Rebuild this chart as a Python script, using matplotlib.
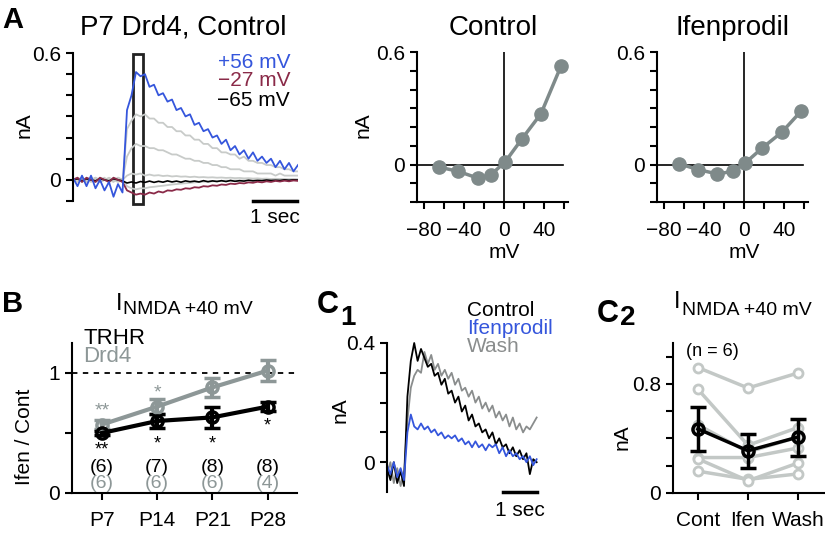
import matplotlib
matplotlib.use("Agg")
import matplotlib.pyplot as plt
import numpy as np

plt.rcParams['font.family'] = ['Liberation Sans', 'DejaVu Sans']
plt.rcParams['axes.linewidth'] = 1.5
plt.rcParams['xtick.major.width'] = 1.5
plt.rcParams['ytick.major.width'] = 1.5
plt.rcParams['xtick.major.size'] = 5
plt.rcParams['ytick.major.size'] = 5
plt.rcParams['xtick.labelsize'] = 15
plt.rcParams['ytick.labelsize'] = 15

W, H = 825, 536
BLUE = '#3556dc'
MAROON = '#8a2a48'
LGRAY = '#c8cbc9'
DGRAY = '#7f8a8a'
MGRAY = '#8d9797'

# ---- panel A: example traces (nA), sampled every 0.1 s from 0 to 5 s
t_a = np.round(np.arange(0, 5.01, 0.1), 2)
trace_p56 = [0.01, -0.03, 0.02, -0.03, 0.02, -0.04, 0.00, -0.05, -0.01, -0.08, -0.02, -0.06,
             0.33, 0.40, 0.51, 0.49, 0.50, 0.44, 0.45, 0.40, 0.41, 0.37, 0.38, 0.33, 0.34, 0.30,
             0.31, 0.26, 0.27, 0.23, 0.24, 0.20, 0.21, 0.17, 0.19, 0.14, 0.16, 0.12, 0.14, 0.10,
             0.13, 0.09, 0.11, 0.08, 0.10, 0.06, 0.09, 0.05, 0.08, 0.04, 0.07]
trace_m27 = [0.00, 0.01, -0.01, 0.01, 0.00, -0.01, 0.01, 0.00, -0.01, 0.01, 0.00, -0.01,
             -0.05, -0.06, -0.07, -0.065, -0.07, -0.06, -0.065, -0.055, -0.06, -0.05, -0.052,
             -0.045, -0.047, -0.04, -0.042, -0.035, -0.037, -0.03, -0.032, -0.026, -0.028,
             -0.022, -0.024, -0.018, -0.02, -0.015, -0.017, -0.012, -0.014, -0.009, -0.012,
             -0.007, -0.01, -0.005, -0.008, -0.004, -0.007, -0.003, -0.005]
trace_m65 = [0.00, 0.005, -0.005, 0.005, 0.00, -0.005, 0.005, 0.00, -0.005, 0.005, 0.00, -0.005,
             -0.015, -0.01, -0.015, -0.008, -0.012, -0.006, -0.012, -0.007, -0.011, -0.005,
             -0.01, -0.006, -0.011, -0.005, -0.009, -0.006, -0.01, -0.004, -0.009, -0.005,
             -0.008, -0.004, -0.008, -0.003, -0.007, -0.004, -0.006, -0.002, -0.005, -0.003,
             -0.004, -0.001, -0.003, -0.002, -0.003, 0.00, -0.002, 0.00, -0.001]
trace_g1 = [0.00, 0.01, -0.01, 0.01, 0.00, -0.01, 0.01, 0.00, -0.01, 0.01, 0.00, -0.01,
            0.24, 0.28, 0.31, 0.30, 0.31, 0.29, 0.29, 0.27, 0.27, 0.25, 0.25, 0.23, 0.23, 0.21,
            0.21, 0.19, 0.19, 0.17, 0.17, 0.15, 0.15, 0.13, 0.13, 0.12, 0.12, 0.10, 0.11, 0.09,
            0.09, 0.08, 0.08, 0.07, 0.07, 0.06, 0.06, 0.05, 0.05, 0.04, 0.04]
trace_g2 = [0.00, -0.01, 0.01, 0.00, -0.01, 0.01, 0.00, 0.01, -0.01, 0.00, 0.01, 0.00,
            0.11, 0.15, 0.17, 0.16, 0.16, 0.15, 0.15, 0.14, 0.14, 0.13, 0.12, 0.12, 0.11, 0.10,
            0.10, 0.09, 0.09, 0.08, 0.08, 0.07, 0.07, 0.06, 0.06, 0.05, 0.05, 0.05, 0.04, 0.04,
            0.04, 0.03, 0.03, 0.03, 0.03, 0.02, 0.03, 0.02, 0.02, 0.02, 0.02]
trace_g3 = [0.00, 0.01, 0.00, -0.01, 0.01, 0.00, -0.01, 0.00, 0.01, 0.00, -0.01, 0.00,
            0.02, 0.03, 0.025, 0.03, 0.02, 0.025, 0.02, 0.022, 0.018, 0.02, 0.016, 0.018, 0.015,
            0.016, 0.013, 0.015, 0.012, 0.013, 0.011, 0.012, 0.01, 0.011, 0.009, 0.01, 0.008,
            0.009, 0.007, 0.008, 0.006, 0.007, 0.005, 0.006, 0.004, 0.005, 0.004, 0.004, 0.003,
            0.004, 0.003]
trace_g4 = [0.00, 0.00, 0.01, -0.01, 0.00, 0.01, -0.01, 0.00, 0.00, -0.01, 0.01, 0.00,
            -0.03, -0.04, -0.045, -0.04, -0.04, -0.035, -0.033, -0.03, -0.028, -0.025, -0.022,
            -0.02, -0.018, -0.016, -0.014, -0.012, -0.01, -0.009, -0.008, -0.007, -0.006,
            -0.005, -0.004, -0.004, -0.003, -0.003, -0.002, -0.002, -0.001, -0.001, 0.00,
            0.00, 0.00, 0.00, 0.00, 0.00, 0.00, 0.00, 0.00]

# ---- panel A: I-V relations
iv_mv_ctrl = [-65, -46, -26, -13, 1, 18, 37, 57]
iv_na_ctrl = [-0.014, -0.036, -0.073, -0.054, 0.013, 0.137, 0.271, 0.525]
iv_mv_ifen = [-65, -46, -27, -11, 1, 18, 38, 57]
iv_na_ifen = [0.004, -0.027, -0.05, -0.037, 0.007, 0.087, 0.173, 0.284]

# ---- panel B: Ifen / Cont ratio
ages = ['P7', 'P14', 'P21', 'P28']
trhr_mean = [0.50, 0.60, 0.63, 0.72]
trhr_sem = [0.02, 0.06, 0.09, 0.04]
drd4_mean = [0.57, 0.72, 0.88, 1.02]
drd4_sem = [0.04, 0.06, 0.08, 0.09]
trhr_n = [6, 7, 8, 8]
drd4_n = [6, 6, 6, 4]
drd4_stars = ['**', '*', '', '']
trhr_stars = ['**', '*', '*', '*']

# ---- panel C1: traces, sampled every 0.1 s from 0 to 4.4 s
t_c = np.round(np.arange(0, 4.41, 0.1), 2)
c1_control = [-0.02, -0.06, 0.00, -0.07, -0.03, -0.08, 0.22, 0.34, 0.40, 0.34, 0.38, 0.35,
              0.32, 0.33, 0.29, 0.30, 0.26, 0.28, 0.23, 0.24, 0.20, 0.22, 0.17, 0.19, 0.14,
              0.16, 0.12, 0.13, 0.10, 0.11, 0.08, 0.10, 0.06, 0.08, 0.05, 0.06, 0.03, 0.05,
              0.02, 0.04, 0.01, 0.03, -0.04, 0.01, 0.00]
c1_ifen = [-0.01, -0.04, 0.00, -0.05, -0.02, -0.06, 0.10, 0.16, 0.12, 0.11, 0.13, 0.11,
           0.12, 0.10, 0.11, 0.09, 0.10, 0.08, 0.09, 0.08, 0.09, 0.07, 0.08, 0.06, 0.07,
           0.05, 0.07, 0.05, 0.06, 0.04, 0.06, 0.05, 0.06, 0.03, 0.05, 0.02, 0.04, 0.02,
           0.03, 0.01, 0.02, 0.00, 0.02, -0.01, 0.01]
c1_wash = [-0.04, 0.00, -0.07, -0.02, -0.08, -0.03, 0.14, 0.25, 0.29, 0.31, 0.30, 0.37,
           0.33, 0.36, 0.31, 0.33, 0.29, 0.31, 0.28, 0.30, 0.26, 0.28, 0.24, 0.25, 0.22,
           0.24, 0.20, 0.22, 0.18, 0.20, 0.17, 0.19, 0.15, 0.17, 0.14, 0.16, 0.12, 0.15,
           0.11, 0.13, 0.10, 0.12, 0.11, 0.13, 0.15]

# ---- panel C2: I_NMDA per cell and mean
conds = ['Cont', 'Ifen', 'Wash']
c2_cells = [[0.92, 0.77, 0.88],
            [0.76, 0.35, 0.48],
            [0.26, 0.26, 0.33],
            [0.16, 0.10, 0.14],
            [0.25, 0.09, 0.22],
            [0.50, 0.30, 0.41]]
c2_mean = [0.47, 0.31, 0.41]
c2_sem = [0.16, 0.125, 0.135]

fig = plt.figure(figsize=(W / 100, H / 100), dpi=100)


def px_axes(l, t, r, b):
    return fig.add_axes([l / W, 1 - b / H, (r - l) / W, (b - t) / H])


def ftext(x, y, s, **kw):
    return fig.text(x / W, 1 - y / H, s, **kw)


# ---------- A: traces
axA = px_axes(73, 48.8, 298, 205.2)
axA.set_xlim(0, 5)
axA.set_ylim(-0.12, 0.62)
for tr in [trace_g4, trace_g3, trace_g2, trace_g1]:
    axA.plot(t_a, tr, color=LGRAY, lw=1.3)
axA.plot(t_a, trace_m65, color='black', lw=1.2)
axA.plot(t_a, trace_m27, color=MAROON, lw=1.3)
axA.plot(t_a, trace_p56, color=BLUE, lw=1.3)
axA.add_patch(plt.Rectangle((1.33, -0.113), 0.23, 0.708, fill=False, lw=2, ec='#222222', clip_on=False))
axA.plot([4.0, 4.98], [-0.1, -0.1], color='black', lw=2.5, clip_on=False)
axA.text(4.49, -0.135, '1 sec', ha='center', va='top', fontsize=15)
for s in ['top', 'right', 'bottom']:
    axA.spines[s].set_visible(False)
axA.spines['left'].set_bounds(-0.1, 0.6)
axA.set_xticks([])
axA.set_yticks(np.round(np.arange(-0.1, 0.61, 0.1), 1))
axA.set_yticklabels(['', '0', '', '', '', '', '', '0.6'])
ftext(24, 125, 'nA', rotation=90, ha='center', va='center', fontsize=15)
ftext(290, 62, '+56 mV', color=BLUE, ha='right', va='center', fontsize=15)
ftext(290, 81, '\u221227 mV', color=MAROON, ha='right', va='center', fontsize=15)
ftext(290, 100, '\u221265 mV', color='black', ha='right', va='center', fontsize=15)
ftext(183, 35, 'P7 Drd4, Control', ha='center', va='baseline', fontsize=20)
ftext(2, 28, 'A', fontweight='bold', fontsize=21, va='baseline')

# ---------- A: I-V plots
for left, mv, na, title in [(417, iv_mv_ctrl, iv_na_ctrl, 'Control'),
                            (657, iv_mv_ifen, iv_na_ifen, 'Ifenprodil')]:
    ax = px_axes(left, 52, left + 151, 202)
    ax.set_xlim(-87, 64)
    ax.set_ylim(-0.2, 0.6)
    ax.axvline(0, color='black', lw=1.2)
    ax.axhline(0, xmax=(59 + 87) / 151, color='black', lw=1.2)
    ax.plot(mv, na, color=DGRAY, lw=2.5, marker='o', ms=9.5, mec=DGRAY, mfc=DGRAY, clip_on=False)
    for s in ['top', 'right']:
        ax.spines[s].set_visible(False)
    ax.set_xticks(range(-80, 61, 20))
    ax.set_xticklabels(['\u221280', '', '\u221240', '', '0', '', '40', ''])
    ax.set_yticks(np.round(np.arange(-0.2, 0.61, 0.1), 1))
    ax.set_yticklabels(['', '', '0', '', '', '', '', '', '0.6'])
    ax.tick_params(axis='x', pad=9)
    ftext(left + 87, 253, 'mV', ha='center', va='center', fontsize=15)
    ftext(left + 76, 35, title, ha='center', va='baseline', fontsize=20)
ftext(363, 125, 'nA', rotation=90, ha='center', va='center', fontsize=15)

# ---------- B
axB = px_axes(72, 343, 297, 493)
xb = np.arange(len(ages))
axB.set_xlim(-0.54, 3.53)
axB.set_ylim(0, 1.25)
axB.axhline(1, color='black', lw=1.3, ls=(0, (3, 3)))
axB.errorbar(xb, drd4_mean, yerr=drd4_sem, color=MGRAY, lw=3, marker='o', ms=8, mfc='none',
             mew=2.5, capsize=6, capthick=3, clip_on=False)
axB.errorbar(xb, trhr_mean, yerr=trhr_sem, color='black', lw=3, marker='o', ms=8, mfc='none',
             mew=2.5, capsize=6, capthick=3, clip_on=False)
for s in ['top', 'right']:
    axB.spines[s].set_visible(False)
axB.spines['left'].set_bounds(0, 1.25)
axB.set_xticks(xb)
axB.set_xticklabels(ages)
axB.tick_params(axis='x', pad=8)
axB.set_yticks([0, 0.5, 1])
axB.set_yticklabels(['0', '', '1'])
# star glyphs sit high above their baseline; anchor on the baseline below the wanted spot
drd4_star_y = [0.68, 0.83, 0, 0]
trhr_star_y = [0.32, 0.375, 0.375, 0.525]
for i in range(len(ages)):
    axB.text(xb[i], 0.215, '(%d)' % trhr_n[i], ha='center', va='center', fontsize=14)
    axB.text(xb[i], 0.08, '(%d)' % drd4_n[i], ha='center', va='center', fontsize=14, color=MGRAY)
    if drd4_stars[i]:
        axB.text(xb[i], drd4_star_y[i], drd4_stars[i], ha='center', va='center', fontsize=14,
                 color=MGRAY)
    axB.text(xb[i], trhr_star_y[i], trhr_stars[i], ha='center', va='baseline', fontsize=13)
ftext(25, 437, 'Ifen / Cont', rotation=90, ha='center', va='center', fontsize=15)
ftext(83, 338, 'TRHR', ha='left', va='center', fontsize=16)
ftext(83, 357, 'Drd4', ha='left', va='center', fontsize=16, color=MGRAY)
ftext(2, 312, 'B', fontweight='bold', fontsize=21, va='baseline')
ftext(116, 310, 'I', ha='left', va='baseline', fontsize=17)
ftext(123, 314, 'NMDA +40 mV', ha='left', va='baseline', fontsize=14)

# ---------- C1
axC1 = px_axes(387, 343, 537, 492)
axC1.set_xlim(0, 4.41)
axC1.set_ylim(-0.1, 0.4)
axC1.plot(t_c, c1_wash, color='#8a8d8d', lw=1.3, clip_on=False)
axC1.plot(t_c, c1_control, color='black', lw=1.3, clip_on=False)
axC1.plot(t_c, c1_ifen, color=BLUE, lw=1.3, clip_on=False)
axC1.plot([3.41, 4.41], [-0.1, -0.1], color='black', lw=2.5, clip_on=False)
axC1.text(3.91, -0.13, '1 sec', ha='center', va='top', fontsize=15)
for s in ['top', 'right', 'bottom']:
    axC1.spines[s].set_visible(False)
axC1.spines['left'].set_bounds(-0.1, 0.4)
axC1.set_xticks([])
axC1.set_yticks(np.round(np.arange(0, 0.41, 0.1), 1))
axC1.set_yticklabels(['0', '', '', '', '0.4'])
ftext(340, 410, 'nA', rotation=90, ha='center', va='center', fontsize=15)
ftext(467, 310, 'Control', ha='left', va='center', fontsize=15)
ftext(467, 328, 'Ifenprodil', ha='left', va='center', fontsize=15, color=BLUE)
ftext(467, 347, 'Wash', ha='left', va='center', fontsize=15, color='#8a8d8d')
ftext(317, 313, 'C', fontweight='bold', fontsize=22, va='baseline')
ftext(340, 325, '1', fontweight='bold', fontsize=20, va='baseline')

# ---------- C2
axC2 = px_axes(673, 343, 825, 493)
xc = np.arange(len(conds))
axC2.set_xlim(-0.5, 2.54)
axC2.set_ylim(0, 1.1)
for cell in c2_cells:
    axC2.plot(xc, cell, color='#c3c8c6', lw=2.5, marker='o', ms=6.5, mfc='white',
              mec='#c3c8c6', mew=2, clip_on=False)
axC2.errorbar(xc, c2_mean, yerr=c2_sem, color='black', lw=2.5, marker='o', ms=8, mfc='none',
              mew=2.5, capsize=6, capthick=3, clip_on=False)
for s in ['top', 'right']:
    axC2.spines[s].set_visible(False)
axC2.set_xticks(xc)
axC2.set_xticklabels(conds)
axC2.tick_params(axis='x', pad=8)
axC2.set_yticks(np.round(np.arange(0, 1.01, 0.2), 1))
axC2.set_yticklabels(['0', '', '', '', '0.8', ''])
axC2.text(-0.25, 1.04, '(n = 6)', ha='left', va='center', fontsize=13)
ftext(622, 437, 'nA', rotation=90, ha='center', va='center', fontsize=15)
ftext(597, 322, 'C', fontweight='bold', fontsize=22, va='baseline')
ftext(620, 325, '2', fontweight='bold', fontsize=20, va='baseline')
ftext(674, 308, 'I', ha='left', va='baseline', fontsize=17)
ftext(682, 315, 'NMDA +40 mV', ha='left', va='baseline', fontsize=14)

fig.savefig('out.png', dpi=100)
